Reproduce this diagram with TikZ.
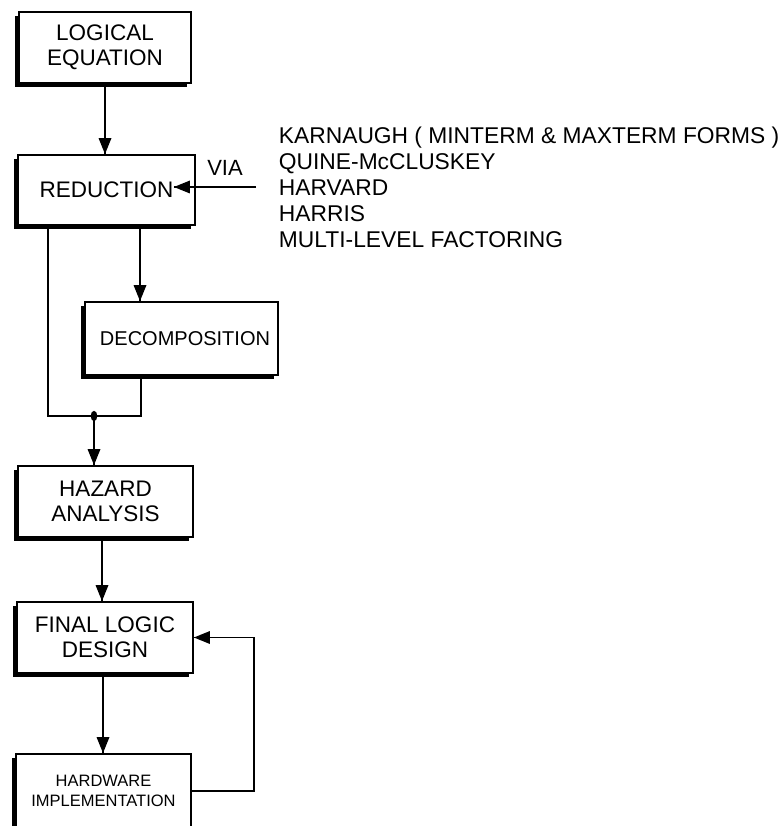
\documentclass[tikz,border=0pt]{standalone}
\usepackage{fontspec}
\setmainfont{Liberation Sans}
\usetikzlibrary{shadows}

\tikzset{every picture/.style={line width=1.9pt}}
\tikzset{
  blockbox/.style={draw, fill=white, align=center, inner sep=0pt,
    drop shadow={shadow xshift=-4pt, shadow yshift=-4pt, fill=black, opacity=1}},
  tiphead/.style={fill=black, line width=0.08, draw opacity=0}
}

\begin{document}
\begin{tikzpicture}[x=1pt,y=1pt,yscale=-1,xscale=1]
\useasboundingbox (0,0) rectangle (783,826);
\clip (0,0) rectangle (783,826);

% Blocks
\node [blockbox, minimum width=172, minimum height=71, font=\fontsize{22.5}{25}\selectfont] (logic) at (105,47.5) {LOGICAL\\EQUATION};
\node [blockbox, minimum width=177, minimum height=70, font=\fontsize{22.5}{25}\selectfont] (reduction) at (106.5,190) {REDUCTION};
\node [blockbox, minimum width=193, minimum height=73, font=\fontsize{20}{23}\selectfont] (decomp) at (181.5,338.5) {\hspace*{7pt}DECOMPOSITION};
\node [blockbox, minimum width=175, minimum height=71, font=\fontsize{22.5}{25}\selectfont] (hazard) at (105.5,501.5) {HAZARD\\ANALYSIS};
\node [blockbox, minimum width=176, minimum height=71, font=\fontsize{22.5}{25}\selectfont] (final) at (105,637.5) {FINAL LOGIC\\DESIGN};
\node [blockbox, minimum width=175, minimum height=74, font=\fontsize{16.5}{20}\selectfont] (hardware) at (103.5,791) {HARDWARE\\IMPLEMENTATION};

% Reduction methods
\node [anchor=west, align=left, inner sep=0pt, font=\fontsize{22.8}{26}\selectfont] (methods) at (278,187) {KARNAUGH ( MINTERM \& MAXTERM FORMS )\\QUINE-McCLUSKEY\\HARVARD\\HARRIS\\MULTI-LEVEL FACTORING};
\node [font=\fontsize{22}{24}\selectfont, inner sep=0pt] (via) at (225,168) {VIA};

% Logical equation -> reduction
\draw (logic.south) -- (logic.south |- reduction.north);
\draw [shift={(logic.south |- reduction.north)}, rotate=270] [tiphead] (16,-6.5) -- (0,0) -- (16,6.5) -- cycle;

% Methods -> reduction
\draw ([xshift=-22]methods.west) -- ([xshift=-22]methods.west -| reduction.east);
\draw [shift={([xshift=-22]methods.west -| reduction.east)}, rotate=0] [tiphead] (16,-6.5) -- (0,0) -- (16,6.5) -- cycle;

% Reduction -> decomposition
\draw ([xshift=33.5]reduction.south) -- ([xshift=33.5]reduction.south |- decomp.north);
\draw [shift={([xshift=33.5]reduction.south |- decomp.north)}, rotate=270] [tiphead] (16,-6.5) -- (0,0) -- (16,6.5) -- cycle;

% Both branches join
\coordinate (join) at (94,416);
\draw ([xshift=-58.5]reduction.south) |- (join);
\draw ([xshift=-40.5]decomp.south) |- (join);
\fill (join) ellipse (3.3 and 5.2);
\draw (join) -- (join |- hazard.north);
\draw [shift={(join |- hazard.north)}, rotate=270] [tiphead] (16,-6.5) -- (0,0) -- (16,6.5) -- cycle;

% Hazard analysis -> final logic design
\draw ([xshift=-3.5]hazard.south) -- ([xshift=-3.5]hazard.south |- final.north);
\draw [shift={([xshift=-3.5]hazard.south |- final.north)}, rotate=270] [tiphead] (16,-6.5) -- (0,0) -- (16,6.5) -- cycle;

% Final logic design -> hardware
\draw ([xshift=-2]final.south) -- ([xshift=-2]final.south |- hardware.north);
\draw [shift={([xshift=-2]final.south |- hardware.north)}, rotate=270] [tiphead] (16,-6.5) -- (0,0) -- (16,6.5) -- cycle;

% Feedback from hardware
\draw (hardware.east) -| ([xshift=60]final.east) -- (final.east);
\draw [shift={(final.east)}, rotate=0] [tiphead] (16,-6.5) -- (0,0) -- (16,6.5) -- cycle;

\end{tikzpicture}
\end{document}
